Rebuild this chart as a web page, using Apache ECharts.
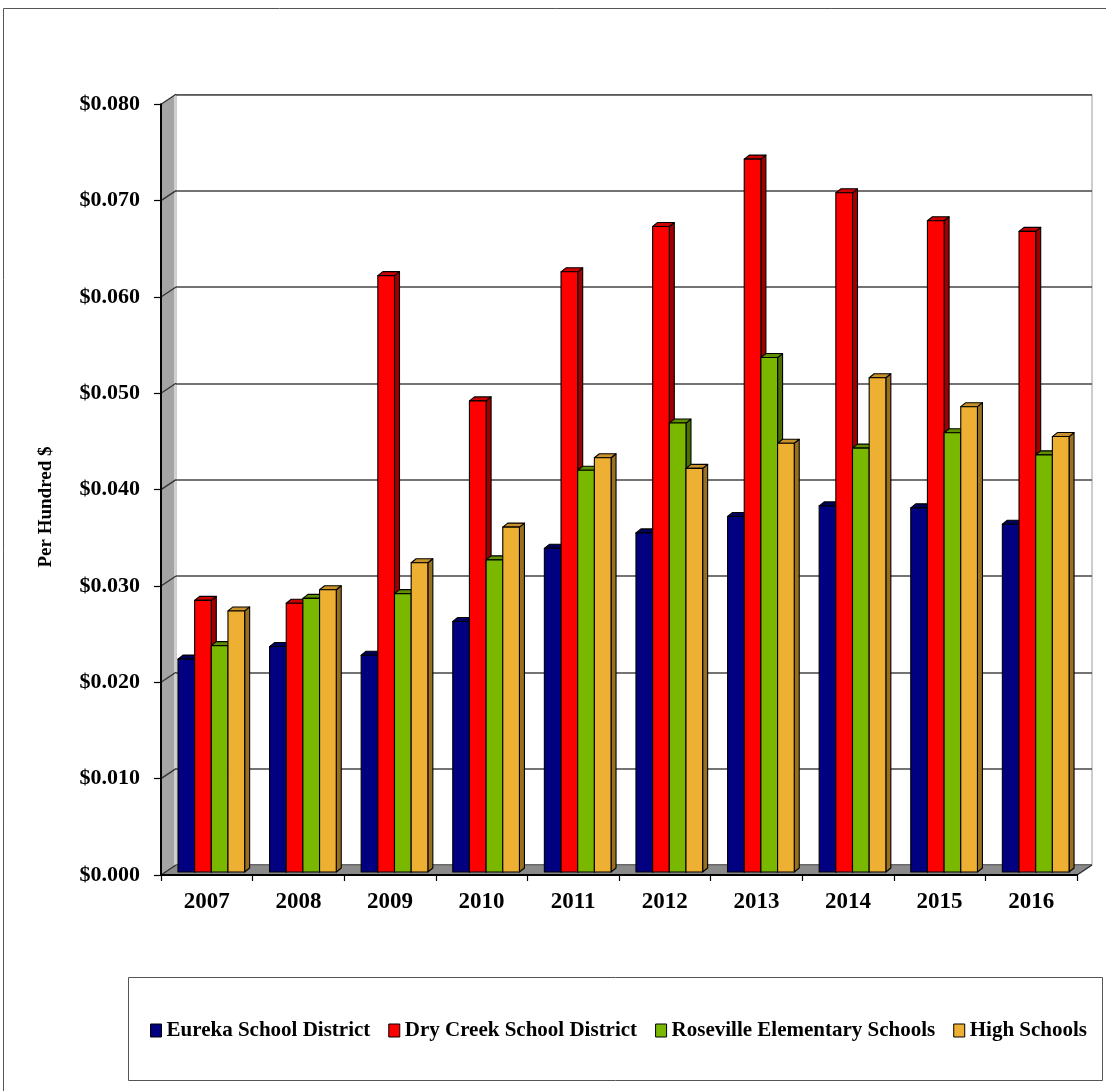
<!DOCTYPE html>
<html>
<head>
<meta charset="utf-8">
<script src="https://cdn.jsdelivr.net/npm/echarts@6/dist/echarts.min.js"></script>
<style>html,body{margin:0;padding:0;background:#fff}#c{width:1106px;height:1091px}</style>
</head>
<body>
<div id="c"></div>
<script>
// ---- data ----
var years = ['2007','2008','2009','2010','2011','2012','2013','2014','2015','2016'];
var eureka    = [0.0221,0.0234,0.0225,0.0260,0.0336,0.0352,0.0369,0.0380,0.0378,0.0361];
var dryCreek  = [0.0282,0.0279,0.0619,0.0489,0.0623,0.0670,0.0740,0.0705,0.0676,0.0665];
var roseville = [0.0235,0.0284,0.0289,0.0324,0.0417,0.0466,0.0534,0.0440,0.0456,0.0433];
var highSch   = [0.0271,0.0293,0.0321,0.0358,0.0430,0.0419,0.0445,0.0513,0.0483,0.0452];
var seriesNames = ['Eureka School District','Dry Creek School District','Roseville Elementary Schools','High Schools'];
var yTicks = [0,0.01,0.02,0.03,0.04,0.05,0.06,0.07,0.08];

// ---- style ----
var FONT = '"Liberation Serif","Times New Roman",serif';
var colors = [
  {front:'#000080', top:'#00005e', side:'#00004a'},
  {front:'#ff0000', top:'#cc0000', side:'#a00000'},
  {front:'#7ab800', top:'#5f9000', side:'#4a7000'},
  {front:'#eeb033', top:'#c8912a', side:'#987020'}
];
var DEPTH = {dx:15, dy:-10};     // back wall offset
var BAR_SHIFT = {dx:4.5, dy:-3}; // bar plane offset
var BAR_D = {dx:5, dy:-4};       // bar depth
var BAR_FRAC = 0.182;

function barRenderer(sIdx) {
  return function (params, api) {
    var idx = api.value(0), v = api.value(1);
    var top = api.coord([idx, v]);
    var base = api.coord([idx, 0]);
    var catW = api.size([1, 0])[0];
    var bw = catW * BAR_FRAC;
    var x = top[0] + BAR_SHIFT.dx - 2 * bw + sIdx * bw;
    var yT = top[1] + BAR_SHIFT.dy, yB = base[1] + BAR_SHIFT.dy;
    var c = colors[sIdx];
    var st = {stroke:'#000', lineWidth:1.1, lineJoin:'round'};
    return {
      type:'group',
      children:[
        {type:'polygon', shape:{points:[[x+bw,yT],[x+bw+BAR_D.dx,yT+BAR_D.dy],[x+bw+BAR_D.dx,yB+BAR_D.dy],[x+bw,yB]]},
         style:Object.assign({fill:c.side}, st)},
        {type:'polygon', shape:{points:[[x,yT],[x+BAR_D.dx,yT+BAR_D.dy],[x+bw+BAR_D.dx,yT+BAR_D.dy],[x+bw,yT]]},
         style:Object.assign({fill:c.top}, st)},
        {type:'rect', shape:{x:x, y:yT, width:bw, height:yB-yT},
         style:Object.assign({fill:c.front}, st)}
      ]
    };
  };
}

function wallRenderer(params, api) {
  var cs = params.coordSys;
  var L = cs.x, R = cs.x + cs.width;
  var z0 = api.coord([0, 0])[1];
  var zTop = api.coord([0, yTicks[yTicks.length-1]])[1];
  var ch = [];
  // side wall
  ch.push({type:'polygon', shape:{points:[[L,zTop],[L+DEPTH.dx,zTop+DEPTH.dy],[L+DEPTH.dx,z0+DEPTH.dy],[L,z0]]},
    style:{fill:'#a4a4a4', stroke:null}});
  ch.push({type:'line', shape:{x1:L+DEPTH.dx-1,y1:zTop+DEPTH.dy,x2:L+DEPTH.dx-1,y2:z0+DEPTH.dy}, style:{stroke:'#d0d0d0', lineWidth:2}});
  // floor
  ch.push({type:'polygon', shape:{points:[[L,z0],[L+DEPTH.dx,z0+DEPTH.dy],[R+DEPTH.dx,z0+DEPTH.dy],[R,z0]]},
    style:{fill:'#8a8a8a', stroke:'#6a6a6a', lineWidth:1}});
  // side wall grid diagonals
  yTicks.forEach(function (t) {
    var y = api.coord([0, t])[1];
    ch.push({type:'line', shape:{x1:L,y1:y,x2:L+DEPTH.dx,y2:y+DEPTH.dy}, style:{stroke:'#333', lineWidth:1.3}});
  });
  // right floor edge
  ch.push({type:'line', shape:{x1:R,y1:z0,x2:R+DEPTH.dx,y2:z0+DEPTH.dy}, style:{stroke:'#333', lineWidth:1.3}});
  return {type:'group', children:ch};
}

var valueLists = [eureka, dryCreek, roseville, highSch];
var series = [{
  type:'custom', xAxisIndex:0, yAxisIndex:0, z:1, silent:true,
  renderItem: wallRenderer, data:[[0,0]]
}];
valueLists.forEach(function (arr, s) {
  series.push({
    type:'custom', name:seriesNames[s], xAxisIndex:0, yAxisIndex:0, z:3,
    itemStyle:{color:colors[s].front},
    encode:{x:0, y:1},
    renderItem: barRenderer(s),
    data: arr.map(function (v, i) { return [i, v]; })
  });
});

var chart = echarts.init(document.getElementById('c'), null, {renderer:'canvas'});
chart.setOption({
  animation:false,
  backgroundColor:'#fff',
  grid:[
    {left:161, top:104.3, width:916, height:770.7},
    {left:176, top:94.5, width:916, height:770.5, show:true, backgroundColor:'#fff', borderColor:'#9a9a9a', borderWidth:1}
  ],
  xAxis:[
    {type:'category', gridIndex:0, data:years, boundaryGap:true,
     axisLine:{show:true, lineStyle:{color:'#000', width:2}},
     axisTick:{show:true, length:6, lineStyle:{color:'#000', width:1.2}},
     axisLabel:{color:'#000', fontFamily:FONT, fontWeight:'bold', fontSize:23, margin:16},
     z:5},
    {type:'category', gridIndex:1, data:years, show:false}
  ],
  yAxis:[
    {type:'value', gridIndex:0, min:0, max:0.08, interval:0.01,
     axisLine:{show:true, lineStyle:{color:'#000', width:2}},
     axisTick:{show:true, length:7, lineStyle:{color:'#000', width:1.2}},
     axisLabel:{color:'#000', fontFamily:FONT, fontWeight:'bold', fontSize:22, margin:21,
       formatter:function (v) { return '$' + v.toFixed(3); }},
     splitLine:{show:false}, z:5},
    {type:'value', gridIndex:1, min:0, max:0.08, interval:0.01,
     axisLine:{show:false}, axisTick:{show:false}, axisLabel:{show:false},
     splitLine:{show:true, lineStyle:{color:'#444', width:1.5}}}
  ],
  legend:{
    left:145, top:1015, itemWidth:11, itemHeight:13, itemGap:18, icon:'rect',
    textStyle:{color:'#000', fontFamily:FONT, fontWeight:'bold', fontSize:21},
    data: seriesNames.map(function (n, s) {
      return {name:n, itemStyle:{color:colors[s].front, borderColor:'#000', borderWidth:1}};
    })
  },
  graphic:[
    {type:'rect', shape:{x:3.5, y:8.5, width:1200, height:1200}, style:{fill:null, stroke:'#555', lineWidth:1}, z:-10},
    {type:'rect', shape:{x:128.5, y:977.5, width:974, height:103}, style:{fill:null, stroke:'#555', lineWidth:1}, z:-10},
    {type:'text', x:46, y:507, rotation:Math.PI/2,
     style:{text:'Per Hundred $', font:'bold 19px ' + FONT, fill:'#000', align:'center', verticalAlign:'middle'}}
  ],
  series: series
});
</script>
</body>
</html>
